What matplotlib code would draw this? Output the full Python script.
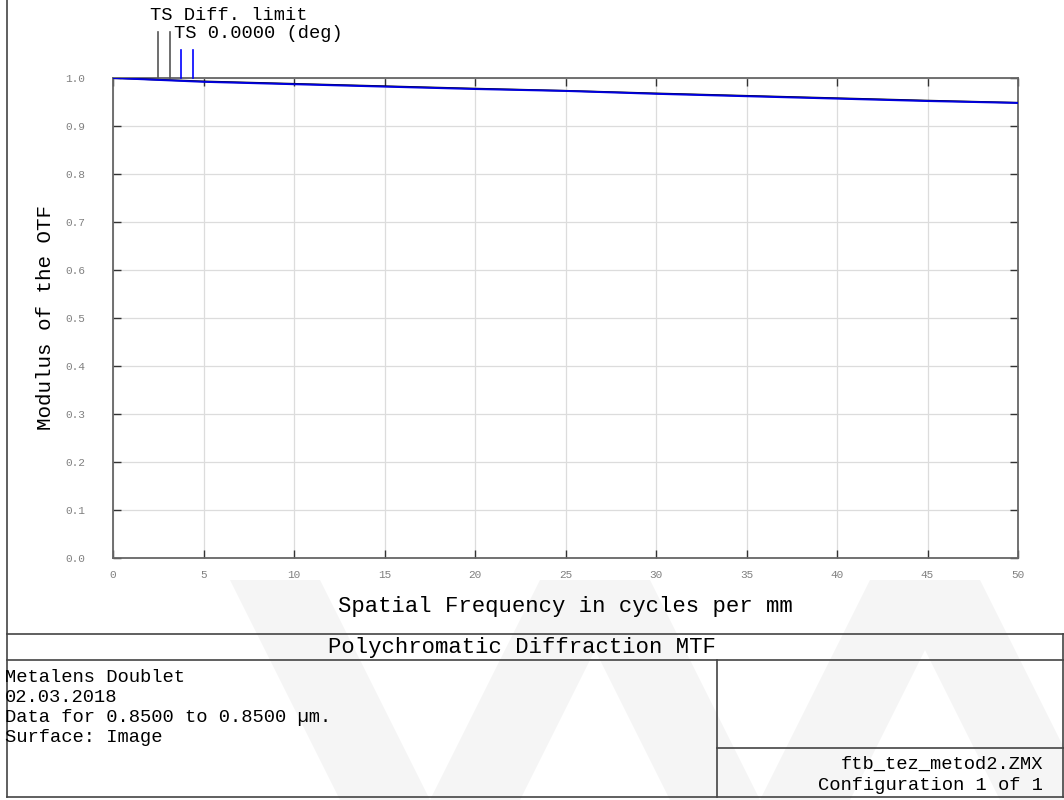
import matplotlib
matplotlib.use("Agg")
import matplotlib.pyplot as plt
from matplotlib.lines import Line2D
from matplotlib.patches import Polygon

# spatial frequency (cycles/mm) and modulus values
freq = [0, 5, 10, 15, 20, 25, 30, 35, 40, 45, 50]
diff_limit = [1.000, 0.993, 0.988, 0.983, 0.978, 0.9735, 0.968, 0.963, 0.958, 0.953, 0.9485]
ts_field0 = [1.000, 0.992, 0.987, 0.982, 0.977, 0.973, 0.967, 0.962, 0.957, 0.952, 0.948]

x_ticks = [0, 5, 10, 15, 20, 25, 30, 35, 40, 45, 50]
y_ticks = [0.0, 0.1, 0.2, 0.3, 0.4, 0.5, 0.6, 0.7, 0.8, 0.9, 1.0]

legend_labels = ["TS Diff. limit", "TS 0.0000 (deg)"]
title_text = "Polychromatic Diffraction MTF"
info_lines = ["Metalens Doublet", "02.03.2018", "Data for 0.8500 to 0.8500 \u00b5m.", "Surface: Image"]
file_lines = ["ftb_tez_metod2.ZMX", "Configuration 1 of 1"]

W, H = 1064, 800
MONO = ["Liberation Mono", "DejaVu Sans Mono"]

def fx(px):
    return px / W

def fy(py):
    return 1 - py / H

fig = plt.figure(figsize=(W / 100, H / 100), dpi=100)
fig.patch.set_facecolor("white")

# faint watermark chevrons in the lower part
wm = "#f5f5f5"
for x0 in [230, 560, 890]:
    pts = [(x0, 580), (x0 + 90, 580), (x0 + 200, 800), (x0 + 110, 800)]
    fig.patches.append(Polygon([(fx(a), fy(b)) for a, b in pts], closed=True,
                               transform=fig.transFigure, facecolor=wm, edgecolor="none", zorder=-5))
    pts = [(x0 + 310, 580), (x0 + 400, 580), (x0 + 290, 800), (x0 + 200, 800)]
    fig.patches.append(Polygon([(fx(a), fy(b)) for a, b in pts], closed=True,
                               transform=fig.transFigure, facecolor=wm, edgecolor="none", zorder=-5))

ax = fig.add_axes([fx(113), fy(558), fx(1018) - fx(113), fy(78) - fy(558)])
ax.set_facecolor("none")
ax.plot(freq, diff_limit, color="black", lw=1.2, zorder=3)
ax.plot(freq, ts_field0, color="#0000dd", lw=1.4, zorder=4)

ax.set_xlim(0, 50)
ax.set_ylim(0, 1.0)
ax.set_xticks(x_ticks)
ax.set_yticks(y_ticks)
ax.set_xticklabels([str(v) for v in x_ticks], family=MONO, fontsize=8, color="#808080")
ax.set_yticklabels(["%.1f" % v for v in y_ticks], family=MONO, fontsize=8, color="#808080")
ax.tick_params(axis="both", direction="in", length=6, width=1, color="#333333",
               top=True, right=True)
ax.tick_params(axis="x", pad=9)
ax.tick_params(axis="y", pad=20)
ax.grid(True, color="#dcdcdc", lw=0.9)
ax.set_axisbelow(True)
for s in ax.spines.values():
    s.set_color("#666666")
    s.set_linewidth(1.3)

ax.set_xlabel("Spatial Frequency in cycles per mm", family=MONO, fontsize=16)
ax.xaxis.set_label_coords((565 - 113) / 905, -(596 - 558) / 480)
ax.set_ylabel("Modulus of the OTF", family=MONO, fontsize=15)
ax.yaxis.set_label_coords(-(113 - 55) / 905, (558 - 318) / 480)

# legend key lines above the plot
for px, ptop, col in [(158, 32, "#555555"), (170, 32, "#555555"), (181, 50, "#0000ff"), (193, 50, "#0000ff")]:
    fig.add_artist(Line2D([fx(px), fx(px)], [fy(ptop), fy(78)], color=col, lw=1.2))
fig.text(fx(150), fy(16), legend_labels[0], family=MONO, fontsize=13.5, va="center", ha="left")
fig.text(fx(174), fy(34), legend_labels[1], family=MONO, fontsize=13.5, va="center", ha="left")

# frame and bottom table
frame = "#444444"
def hline(y, x0, x1):
    fig.add_artist(Line2D([fx(x0), fx(x1)], [fy(y), fy(y)], color=frame, lw=1.2))

def vline(x, y0, y1):
    fig.add_artist(Line2D([fx(x), fx(x)], [fy(y0), fy(y1)], color=frame, lw=1.2))

vline(7, 0, 797)
vline(1063, 634, 797)
hline(634, 7, 1064)
hline(660, 7, 1064)
hline(797, 7, 1064)
vline(717, 660, 797)
hline(748, 717, 1064)

fig.text(fx(522), fy(648), title_text, family=MONO, fontsize=16, ha="center", va="center")
for i, line in enumerate(info_lines):
    fig.text(fx(5), fy(677 + i * 20), line, family=MONO, fontsize=13.5, ha="left", va="center")
for i, line in enumerate(file_lines):
    fig.text(fx(1043), fy(764 + i * 21), line, family=MONO, fontsize=13.5, ha="right", va="center")

fig.savefig("out.png", dpi=100)
